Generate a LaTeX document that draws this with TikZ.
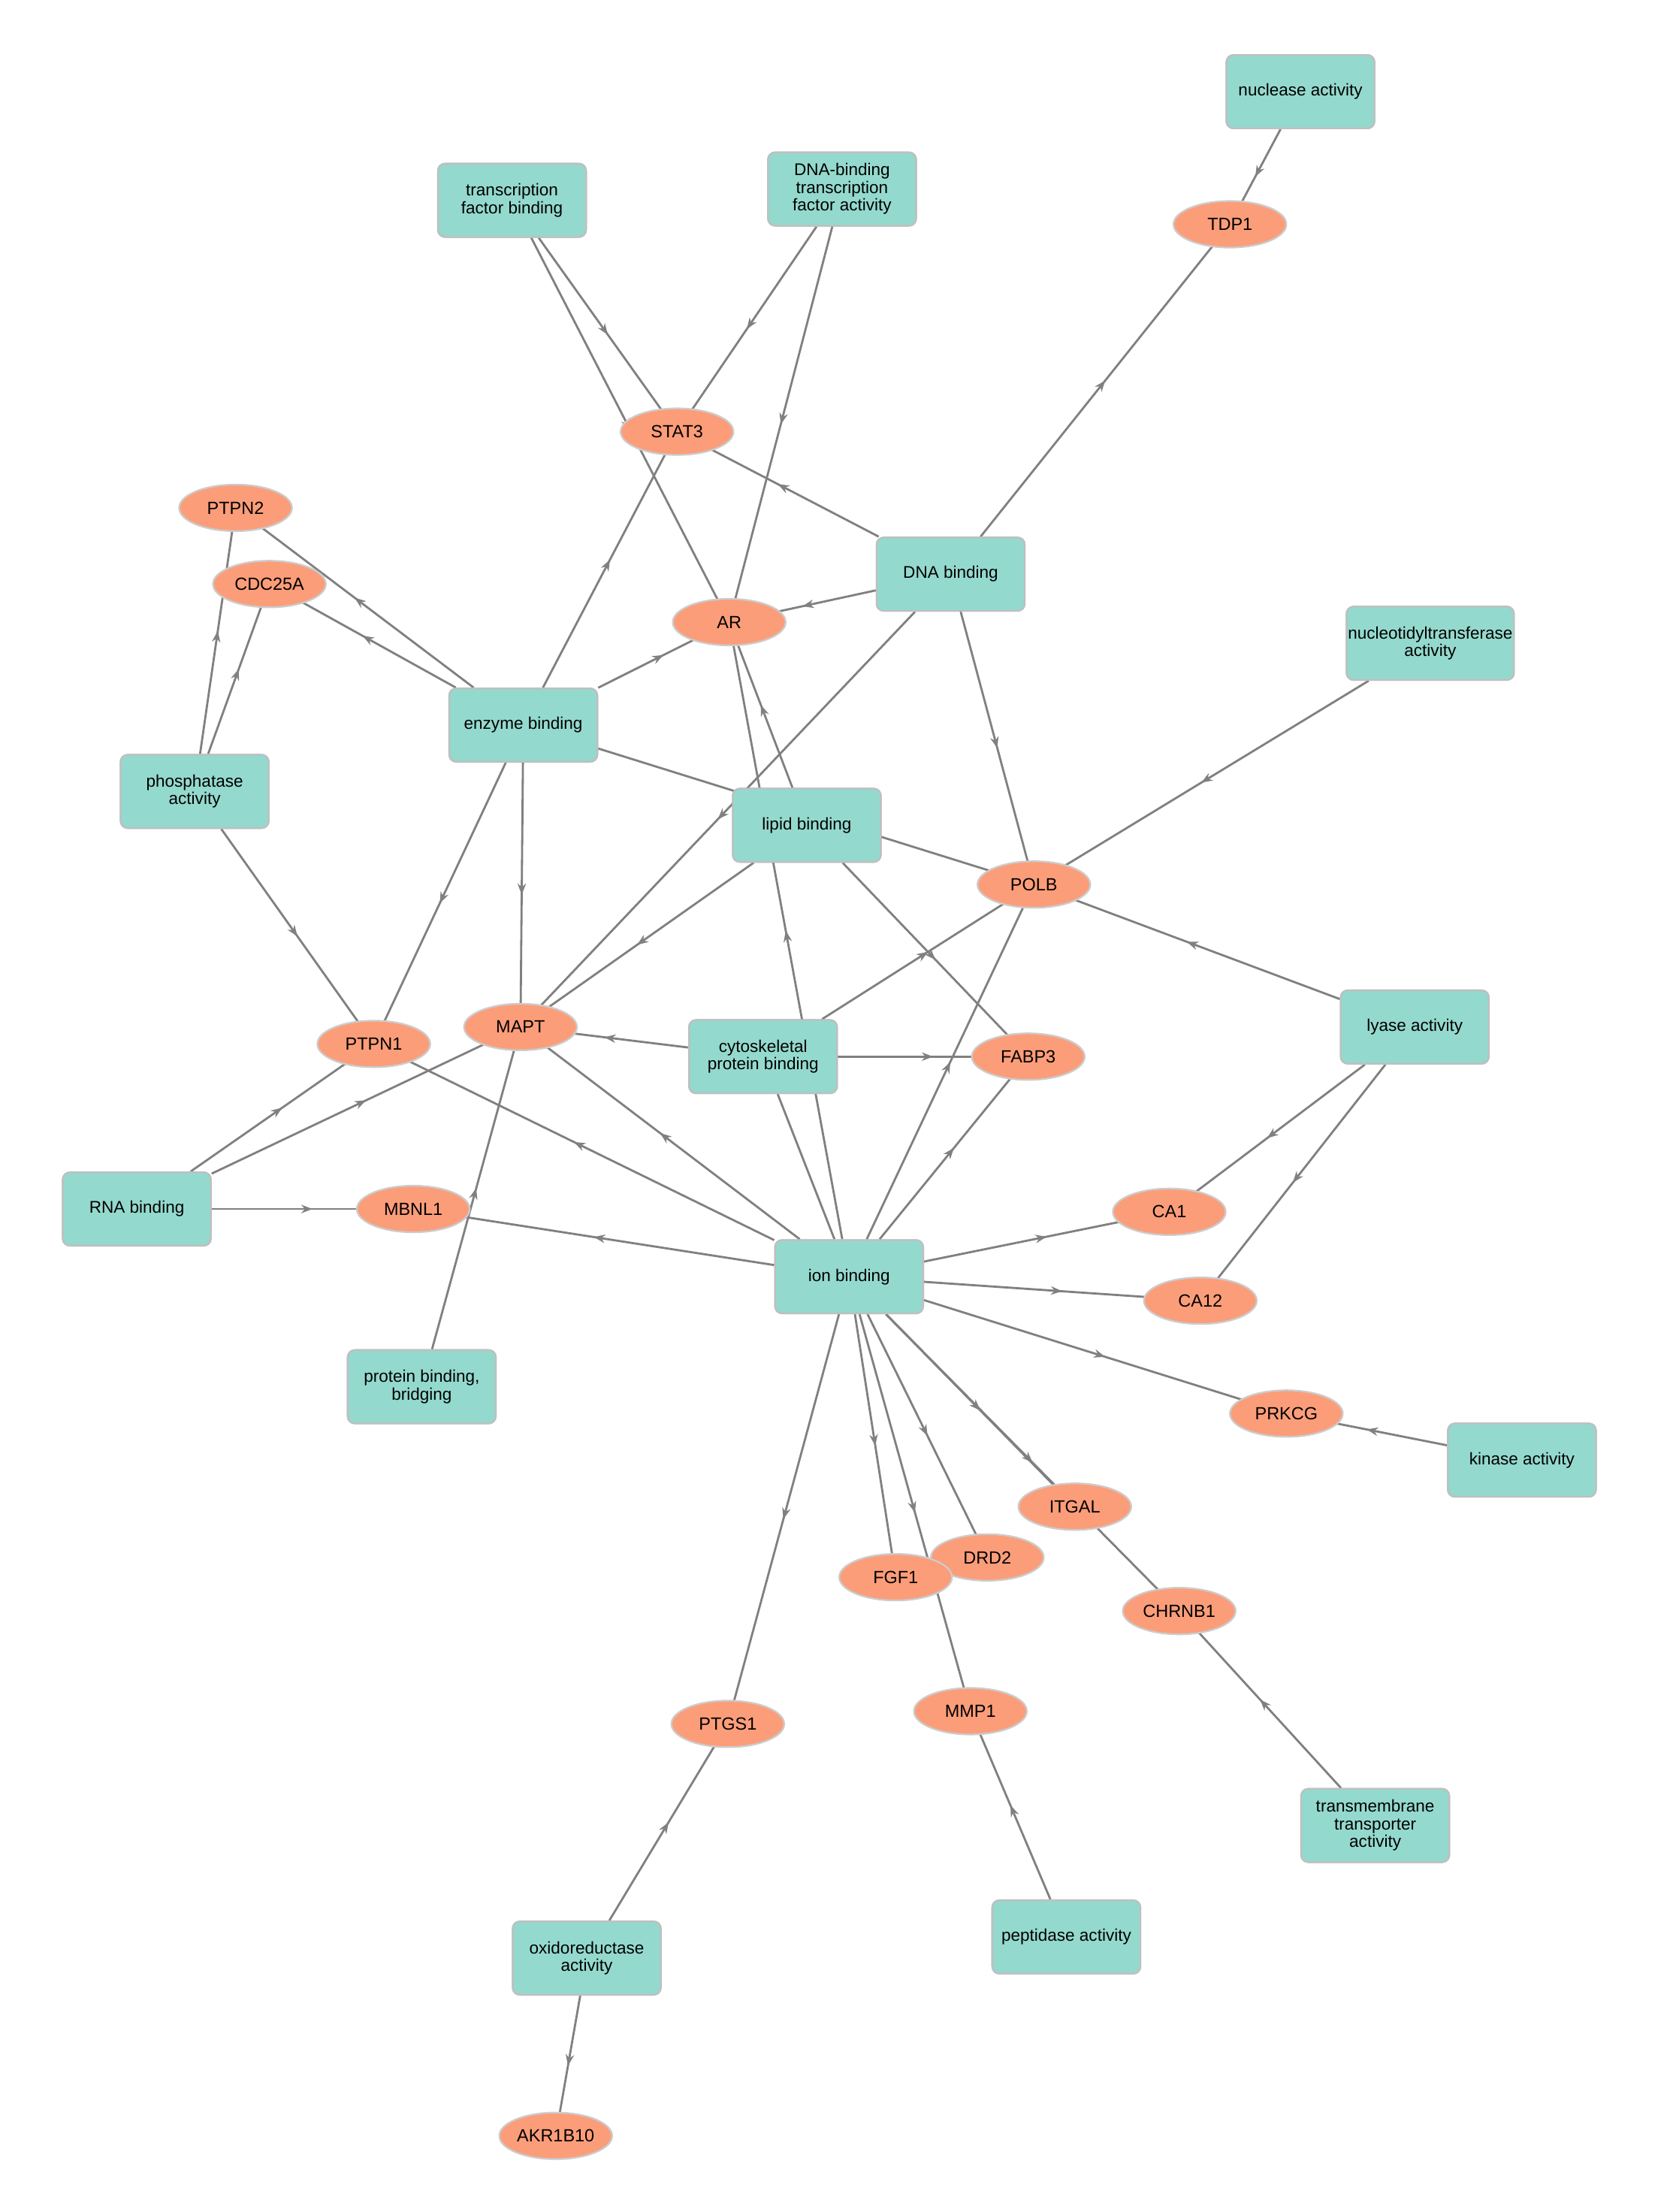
\documentclass[tikz,border=0pt]{standalone}
\usepackage{fontspec}
\setmainfont{Liberation Sans}
\usetikzlibrary{decorations.markings,arrows.meta,shapes.geometric}
\begin{document}
\begin{tikzpicture}[x=1pt,y=-1pt,
 term/.style={draw=black!25,line width=1.2pt,fill=cyan!40!teal!35!white,fill={rgb,255:red,148;green,217;blue,206},rounded corners=5pt,minimum width=105pt,minimum height=52pt,align=center,font=\fontsize{12}{12.5}\selectfont,inner sep=1pt},
 gene/.style={ellipse,draw=black!20,line width=1.2pt,fill={rgb,255:red,252;green,157;blue,122},minimum width=80pt,minimum height=33pt,font=\fontsize{12.5}{13}\selectfont,inner sep=0pt},
 lnk/.style={draw={rgb,255:red,128;green,128;blue,128},line width=1.5pt,postaction={decorate},decoration={markings,mark=at position 0.5 with {\arrow[fill={rgb,255:red,128;green,128;blue,128}]{Stealth[length=8pt,width=6pt]}}}},
 pl/.style={draw={rgb,255:red,128;green,128;blue,128},line width=1.5pt}]
\useasboundingbox (0,0) rectangle (1190,1568);
% terms
\node[term] (nuc) at (922,65) {nuclease activity};
\node[term] (tfb) at (363,142) {transcription\\factor binding};
\node[term] (dtf) at (597,134) {DNA-binding\\transcription\\factor activity};
\node[term] (dna) at (674,407) {DNA binding};
\node[term] (nt) at (1014,456) {nucleotidyltransferase\\activity};
\node[term] (enz) at (371,514) {enzyme binding};
\node[term] (pho) at (138,561) {phosphatase\\activity};
\node[term] (lip) at (572,585) {lipid binding};
\node[term] (lya) at (1003,728) {lyase activity};
\node[term] (cyt) at (541,749) {cytoskeletal\\protein binding};
\node[term] (rna) at (97,857) {RNA binding};
\node[term] (ion) at (602,905) {ion binding};
\node[term] (pbb) at (299,983) {protein binding,\\bridging};
\node[term] (kin) at (1079,1035) {kinase activity};
\node[term] (tmt) at (975,1294) {transmembrane\\transporter\\activity};
\node[term] (oxi) at (416,1388) {oxidoreductase\\activity};
\node[term] (pep) at (756,1373) {peptidase activity};
% edges (drawn before genes so genes cover ends)
\begin{scope}[on background layer/.style={}]
\end{scope}
\path[lnk] (nuc) -- (872,159);
\path[lnk] (dna) -- (872,159);
\path[lnk] (tfb) -- (480,306);
\path[lnk] (tfb) -- (517,441);
\path[lnk] (dtf) -- (480,306);
\path[lnk] (dtf) -- (517,441);
\path[lnk] (dna) -- (480,306);
\path[lnk] (enz) -- (480,306);
\path[lnk] (dna) -- (517,441);
\path[lnk] (enz) -- (517,441);
\path[lnk] (lip) -- (517,441);
\path[lnk] (ion) -- (517,441);
\path[lnk] (enz) -- (167,360);
\path[lnk] (pho) -- (167,360);
\path[lnk] (enz) -- (191,414);
\path[lnk] (pho) -- (191,414);
\path[lnk] (pho) -- (265,740);
\path[lnk] (enz) -- (265,740);
\path[lnk] (enz) -- (369,728);
\path[lnk] (enz) -- (733,627);
\path[lnk] (dna) -- (369,728);
\path[lnk] (dna) -- (733,627);
\path[lnk] (nt) -- (733,627);
\path[lnk] (lip) -- (369,728);
\path[lnk] (lip) -- (729,749);
\path[lnk] (cyt) -- (733,627);
\path[lnk] (ion) -- (733,627);
\path[lnk] (lya) -- (733,627);
\path[lnk] (lya) -- (829,859);
\path[lnk] (lya) -- (851,922);
\path[lnk] (cyt) -- (369,728);
\path[lnk] (cyt) -- (729,749);
\path[pl] (cyt) -- (ion);
\path[lnk] (rna) -- (369,728);
\path[lnk] (rna) -- (265,740);
\path[lnk] (rna) -- (293,857);
\path[lnk] (ion) -- (369,728);
\path[lnk] (ion) -- (265,740);
\path[lnk] (pbb) -- (369,728);
\path[lnk] (ion) -- (729,749);
\path[lnk] (ion) -- (293,857);
\path[lnk] (ion) -- (829,859);
\path[lnk] (ion) -- (851,922);
\path[lnk] (ion) -- (912,1002);
\path[lnk] (kin) -- (912,1002);
\path[lnk] (ion) -- (762,1068);
\path[lnk] (ion) -- (836,1142);
\path[lnk] (ion) -- (700,1104);
\path[lnk] (ion) -- (635,1118);
\path[lnk] (ion) -- (688,1213);
\path[lnk] (ion) -- (516,1222);
\path[lnk] (tmt) -- (836,1142);
\path[lnk] (pep) -- (688,1213);
\path[lnk] (oxi) -- (516,1222);
\path[lnk] (oxi) -- (394,1514);
% redraw terms on top of edges
\foreach \n/\p/\t in {dna/{674,407}/{DNA binding},enz/{371,514}/{enzyme binding},lip/{572,585}/{lipid binding},cyt/{541,749}/{cytoskeletal\\protein binding},ion/{602,905}/{ion binding},pho/{138,561}/{phosphatase\\activity},oxi/{416,1388}/{oxidoreductase\\activity},lya/{1003,728}/{lyase activity},rna/{97,857}/{RNA binding},nuc/{922,65}/{nuclease activity},tfb/{363,142}/{transcription\\factor binding},dtf/{597,134}/{DNA-binding\\transcription\\factor activity},nt/{1014,456}/{nucleotidyltransferase\\activity},pbb/{299,983}/{protein binding,\\bridging},kin/{1079,1035}/{kinase activity},tmt/{975,1294}/{transmembrane\\transporter\\activity},pep/{756,1373}/{peptidase activity}}
  {\node[term] (\n x) at (\p) {\t};}
% genes
\node[gene] (TDP1) at (872,159) {TDP1};
\node[gene] (STAT3) at (480,306) {STAT3};
\node[gene] (PTPN2) at (167,360) {PTPN2};
\node[gene] (CDC25A) at (191,414) {CDC25A};
\node[gene] (AR) at (517,441) {AR};
\node[gene] (POLB) at (733,627) {POLB};
\node[gene] (MAPT) at (369,728) {MAPT};
\node[gene] (PTPN1) at (265,740) {PTPN1};
\node[gene] (FABP3) at (729,749) {FABP3};
\node[gene] (MBNL1) at (293,857) {MBNL1};
\node[gene] (CA1) at (829,859) {CA1};
\node[gene] (CA12) at (851,922) {CA12};
\node[gene] (PRKCG) at (912,1002) {PRKCG};
\node[gene] (ITGAL) at (762,1068) {ITGAL};
\node[gene] (DRD2) at (700,1104) {DRD2};
\node[gene] (FGF1) at (635,1118) {FGF1};
\node[gene] (CHRNB1) at (836,1142) {CHRNB1};
\node[gene] (MMP1) at (688,1213) {MMP1};
\node[gene] (PTGS1) at (516,1222) {PTGS1};
\node[gene] (AKR1B10) at (394,1514) {AKR1B10};
\end{tikzpicture}
\end{document}
